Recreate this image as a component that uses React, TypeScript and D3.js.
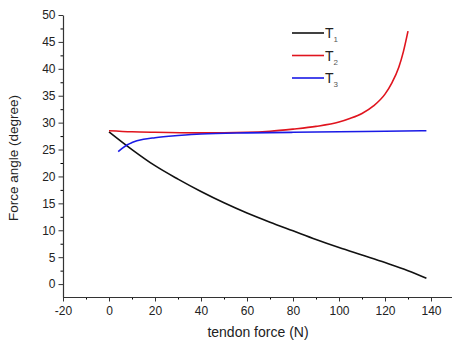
import React, { useEffect, useRef } from "react";
import * as d3 from "d3";

// tendon force (N) sampled along each curve
const t1X = [0, 10, 20, 30, 40, 50, 60, 70, 80, 90, 100, 110, 120, 130, 138];
const t1Y = [28.3, 25.0, 22.0, 19.5, 17.2, 15.1, 13.2, 11.5, 9.9, 8.3, 6.8, 5.4, 4.0, 2.5, 1.1];

const t2X = [0, 10, 20, 40, 60, 70, 80, 90, 100, 105, 110, 115, 120, 123, 126, 128, 130];
const t2Y = [28.5, 28.3, 28.2, 28.1, 28.2, 28.4, 28.8, 29.3, 30.1, 30.8, 31.7, 33.1, 35.3, 37.4, 40.3, 43.2, 47.0];

const t3X = [4, 6, 8, 10, 15, 20, 30, 40, 60, 80, 100, 120, 138];
const t3Y = [24.6, 25.3, 25.9, 26.3, 26.9, 27.2, 27.6, 27.9, 28.1, 28.2, 28.3, 28.4, 28.5];

const seriesNames = ["1", "2", "3"];
const colors = ["#111111", "#e0141e", "#1a1ae6"];

const xTicks = [-20, 0, 20, 40, 60, 80, 100, 120, 140];
const yTicks = [0, 5, 10, 15, 20, 25, 30, 35, 40, 45, 50];

const App = () => {
  const ref = useRef(null);

  useEffect(() => {
    const svg = d3.select(ref.current).attr("width", 452).attr("height", 343);
    svg.selectAll("*").remove();

    const font = "'Liberation Sans', Arial, sans-serif";

    const x = d3.scaleLinear().domain([-20, 150]).range([63, 454]);
    const y = d3.scaleLinear().domain([-2.4, 50]).range([297, 15]);

    // minor ticks
    svg
      .append("g")
      .attr("transform", "translate(0,297)")
      .call(
        d3.axisBottom(x).tickValues(d3.range(-10, 150, 20)).tickSize(2.5).tickFormat(() => "")
      )
      .call((g) => g.select(".domain").remove());
    svg
      .append("g")
      .attr("transform", "translate(63,0)")
      .call(d3.axisLeft(y).tickValues(d3.range(2.5, 50, 5)).tickSize(2.5).tickFormat(() => ""))
      .call((g) => g.select(".domain").remove());

    const xAxis = svg
      .append("g")
      .attr("transform", "translate(0,297)")
      .call(
        d3
          .axisBottom(x)
          .tickValues(xTicks)
          .tickSize(4.5)
          .tickPadding(5)
          .tickSizeOuter(0)
          .tickFormat((d) => String(d))
      );
    const yAxis = svg
      .append("g")
      .attr("transform", "translate(63,0)")
      .call(d3.axisLeft(y).tickValues(yTicks).tickSize(4.5).tickPadding(3).tickSizeOuter(0));

    [xAxis, yAxis].forEach((g) => {
      g.selectAll("text").attr("font-family", font).attr("font-size", 12).attr("fill", "#222");
      g.selectAll("line").attr("stroke", "#333");
      g.select(".domain").attr("stroke", "#333").attr("stroke-width", 1.2);
    });

    const line = d3
      .line<[number, number]>()
      .x((d) => x(d[0]))
      .y((d) => y(d[1]))
      .curve(d3.curveMonotoneX);

    const series = [
      d3.zip(t1X, t1Y),
      d3.zip(t2X, t2Y),
      d3.zip(t3X, t3Y),
    ];
    series.forEach((pts, i) => {
      svg
        .append("path")
        .datum(pts as [number, number][])
        .attr("fill", "none")
        .attr("stroke", colors[i])
        .attr("stroke-width", 1.6)
        .attr("d", line);
    });

    // legend
    const legend = svg.append("g").attr("transform", "translate(292,33)");
    seriesNames.forEach((n, i) => {
      const row = legend.append("g").attr("transform", `translate(0,${i * 22.5})`);
      row
        .append("line")
        .attr("x1", 0)
        .attr("x2", 32)
        .attr("stroke", colors[i])
        .attr("stroke-width", 1.6);
      const t = row
        .append("text")
        .attr("x", 33)
        .attr("y", 5)
        .attr("font-family", font)
        .attr("font-size", 14)
        .attr("fill", "#222");
      t.append("tspan").text("T");
      t.append("tspan").attr("dy", 4).attr("font-size", 8).attr("fill", "#555").text(n);
    });

    svg
      .append("text")
      .attr("x", 258)
      .attr("y", 337)
      .attr("text-anchor", "middle")
      .attr("font-family", font)
      .attr("font-size", 14)
      .attr("fill", "#222")
      .text("tendon force (N)");

    svg
      .append("text")
      .attr("transform", "translate(18,158) rotate(-90)")
      .attr("text-anchor", "middle")
      .attr("font-family", font)
      .attr("font-size", 13.5)
      .attr("fill", "#222")
      .text("Force angle (degree)");
  }, []);

  return <svg ref={ref} style={{ position: "absolute", left: 0, top: 0 }} />;
};

export default App;
